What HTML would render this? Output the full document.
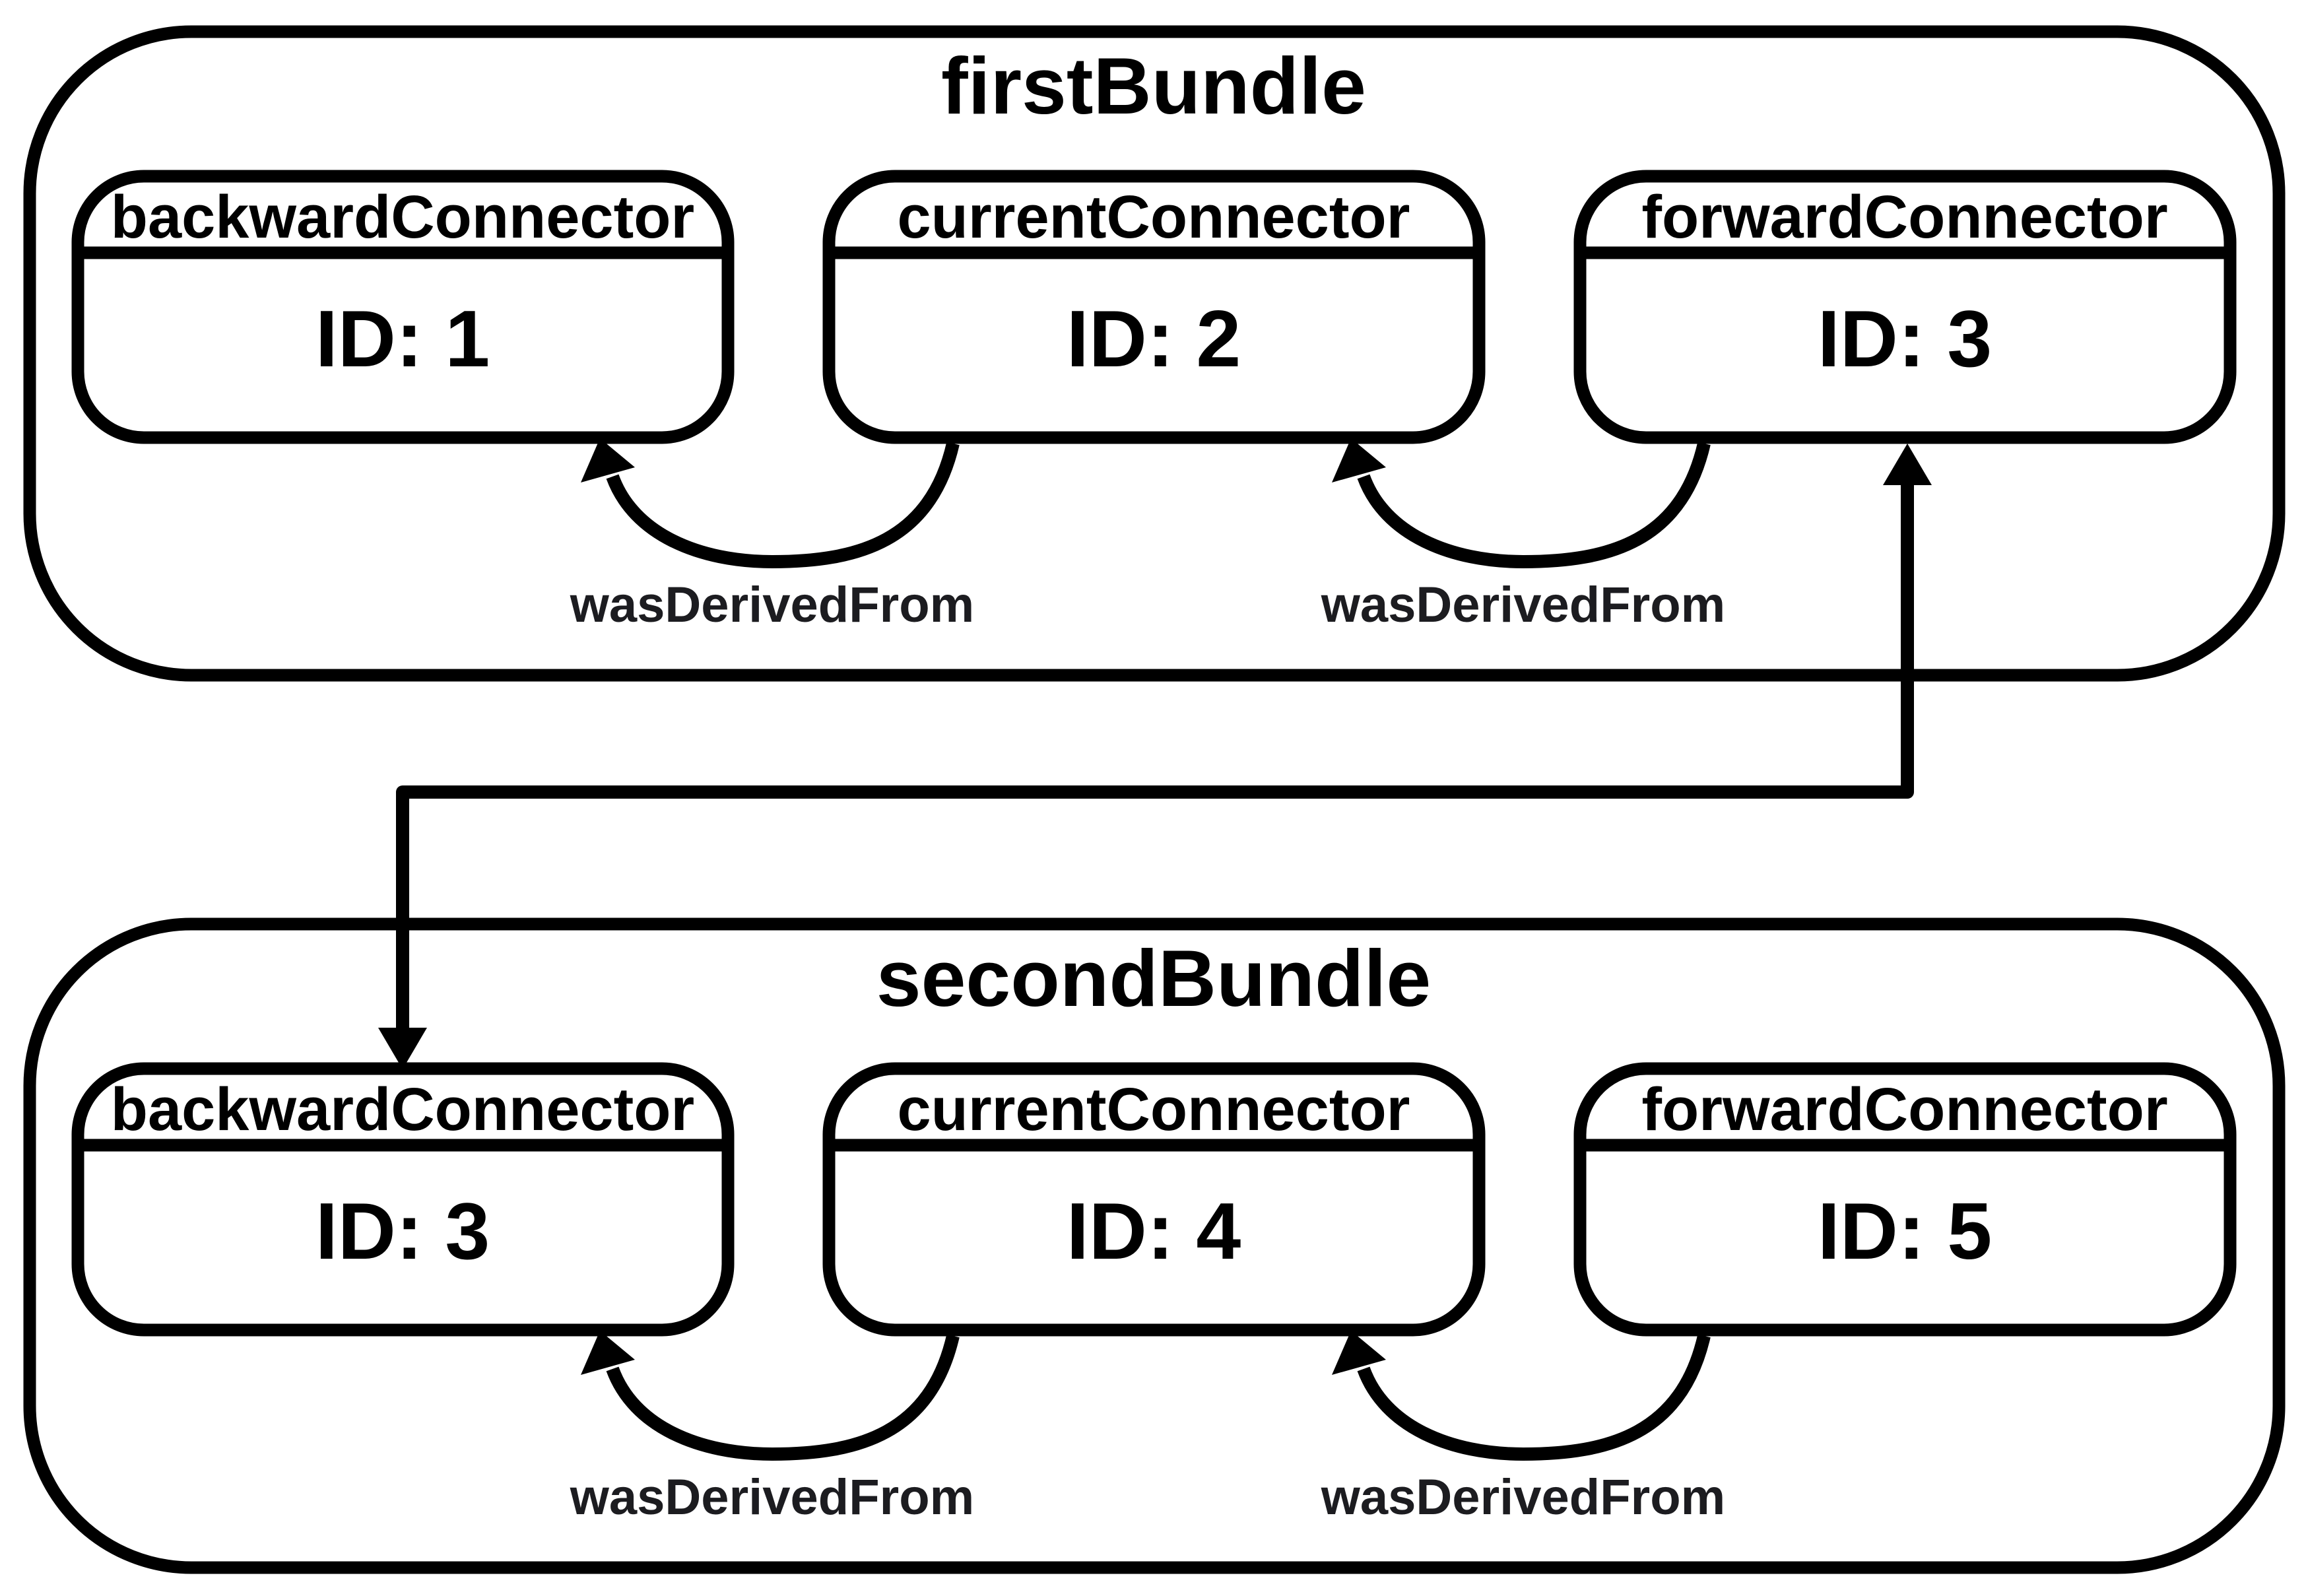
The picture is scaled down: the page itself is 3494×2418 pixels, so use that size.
<!DOCTYPE html>
<html><head><meta charset="utf-8"><style>
html,body{margin:0;padding:0;background:#fff;}
svg{display:block;}
text{font-family:"Liberation Sans",Arial,sans-serif;font-weight:bold;text-anchor:middle;}
</style></head><body>
<svg width="3494" height="2418" viewBox="0 0 3494 2418" xmlns="http://www.w3.org/2000/svg">
<defs>
<g id="bundle">
  <rect x="45" y="48" width="3408" height="975" rx="245" ry="245" fill="none" stroke="#000" stroke-width="19"/>
  <g id="box">
    <rect x="118" y="267" width="985" height="396" rx="100" ry="100" fill="#fff" stroke="#000" stroke-width="19"/>
    <line x1="118" y1="383" x2="1103" y2="383" stroke="#000" stroke-width="19"/>
  </g>
  <use href="#box" x="1138"/>
  <use href="#box" x="2276"/>
  <g id="arc">
    <path d="M1444 672 C1410 820 1300 851 1170 851 C1060 851 960 810 928 722" fill="none" stroke="#000" stroke-width="20"/>
    <polygon points="909,664 880,731 962,708" fill="#000"/>
    <text x="1170" y="942" font-size="76" fill="#1c1c20">wasDerivedFrom</text>
  </g>
  <use href="#arc" x="1138"/>
</g>
</defs>
<use href="#bundle"/>
<use href="#bundle" y="1352"/>

<text x="1748" y="172" font-size="122">firstBundle</text>
<text x="1748" y="1524" font-size="122">secondBundle</text>

<text x="610" y="360" font-size="92">backwardConnector</text>
<text x="1748" y="360" font-size="92">currentConnector</text>
<text x="2886" y="360" font-size="92">forwardConnector</text>
<text x="610" y="555" font-size="122">ID: 1</text>
<text x="1748" y="555" font-size="122">ID: 2</text>
<text x="2886" y="555" font-size="122">ID: 3</text>

<text x="610" y="1712" font-size="92">backwardConnector</text>
<text x="1748" y="1712" font-size="92">currentConnector</text>
<text x="2886" y="1712" font-size="92">forwardConnector</text>
<text x="610" y="1907" font-size="122">ID: 3</text>
<text x="1748" y="1907" font-size="122">ID: 4</text>
<text x="2886" y="1907" font-size="122">ID: 5</text>

<polyline points="2890,730 2890,1200 610,1200 610,1560" fill="none" stroke="#000" stroke-width="20" stroke-linejoin="round"/>
<polygon points="2890,672 2853,735 2927,735" fill="#000"/>
<polygon points="610,1620 573,1557 647,1557" fill="#000"/>
</svg>
</body></html>
